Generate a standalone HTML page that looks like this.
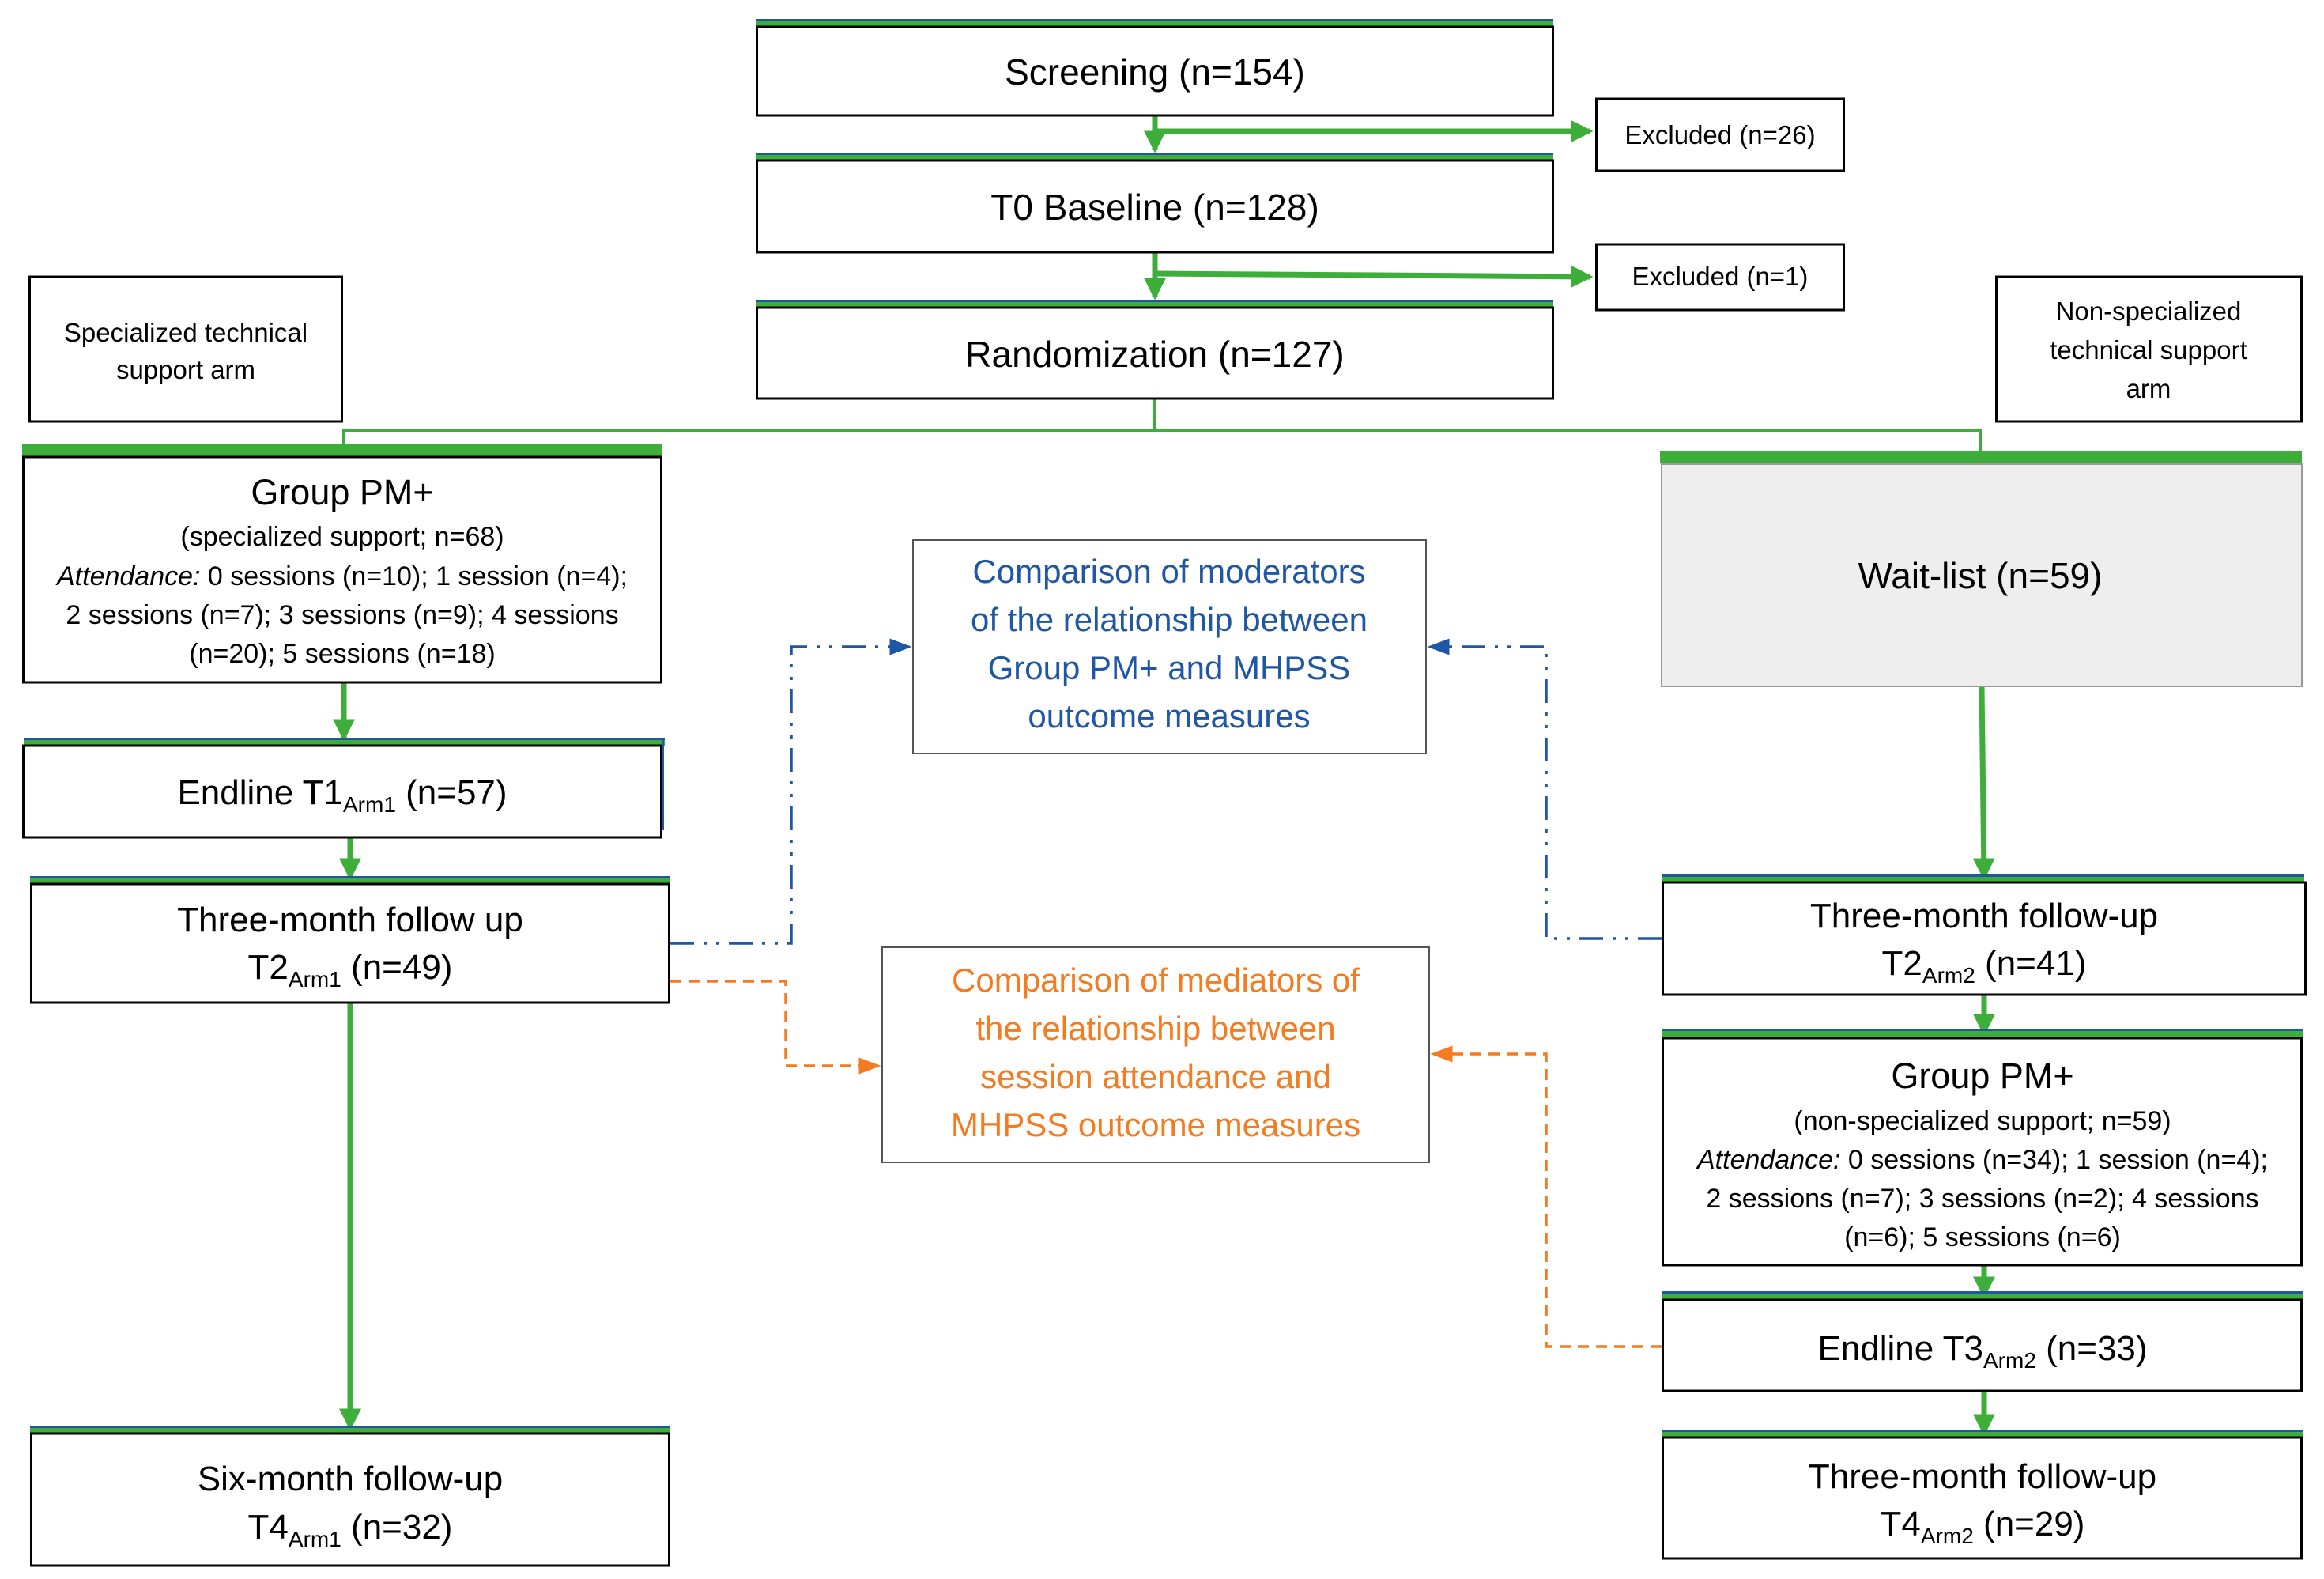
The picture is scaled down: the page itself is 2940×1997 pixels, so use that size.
<!DOCTYPE html>
<html><head><meta charset="utf-8"><style>
html,body{margin:0;padding:0;background:#fff;}
svg{display:block;}
text{font-family:"Liberation Sans",sans-serif;fill:#000;}
</style></head><body>
<svg width="2940" height="1997" viewBox="0 0 2940 1997" xmlns="http://www.w3.org/2000/svg">
<defs>
<marker id="ga2" markerWidth="4" markerHeight="4" refX="3.5" refY="2" orient="auto" markerUnits="strokeWidth"><path d="M0,0 L4,2 L0,4 z" fill="#3dae3a"/></marker>
<marker id="ba" markerWidth="8" markerHeight="8" refX="7" refY="4" orient="auto" markerUnits="strokeWidth"><path d="M0,1 L8,4 L0,7 z" fill="#1f57a5"/></marker>
<marker id="oa" markerWidth="8" markerHeight="8" refX="7" refY="4" orient="auto" markerUnits="strokeWidth"><path d="M0,1 L8,4 L0,7 z" fill="#f47b20"/></marker>
</defs>

<g stroke="#3dae3a" fill="none">
<line x1="1461" y1="146" x2="1461" y2="190" stroke-width="7" marker-end="url(#ga2)"/>
<line x1="1461" y1="166" x2="2012" y2="166" stroke-width="7" marker-end="url(#ga2)"/>
<line x1="1461" y1="319" x2="1461" y2="376" stroke-width="7" marker-end="url(#ga2)"/>
<line x1="1461" y1="346" x2="2012" y2="350" stroke-width="7" marker-end="url(#ga2)"/>
<polyline points="1461,504 1461,544 435,544 435,562" stroke-width="4"/>
<polyline points="1461,544 2505,544 2505,570" stroke-width="4"/>
<line x1="435" y1="863" x2="435" y2="934" stroke-width="7" marker-end="url(#ga2)"/>
<line x1="443" y1="1059" x2="443" y2="1110" stroke-width="7" marker-end="url(#ga2)"/>
<line x1="443" y1="1268" x2="443" y2="1806" stroke-width="7" marker-end="url(#ga2)"/>
<line x1="2507" y1="868" x2="2510" y2="1110" stroke-width="7" marker-end="url(#ga2)"/>
<line x1="2510" y1="1258" x2="2510" y2="1307" stroke-width="7" marker-end="url(#ga2)"/>
<line x1="2510" y1="1600" x2="2510" y2="1639" stroke-width="7" marker-end="url(#ga2)"/>
<line x1="2510" y1="1759" x2="2510" y2="1813" stroke-width="7" marker-end="url(#ga2)"/>
</g>
<g fill="none" stroke-width="3.5">
<polyline points="848,1193 1001,1193 1001,818 1150,818" stroke="#1f57a5" stroke-dasharray="30,12,4,12,4,12" marker-end="url(#ba)"/>
<polyline points="2102,1187 1956,1187 1956,818 1809,818" stroke="#1f57a5" stroke-dasharray="30,12,4,12,4,12" marker-end="url(#ba)"/>
<polyline points="848,1241 994,1241 994,1348 1111,1348" stroke="#f47b20" stroke-dasharray="14,9" marker-end="url(#oa)"/>
<polyline points="2102,1703 1956,1703 1956,1333 1813,1333" stroke="#f47b20" stroke-dasharray="14,9" marker-end="url(#oa)"/>
</g>

<g>
<rect x="956" y="24" width="1009" height="3" fill="#1f57a5"/><rect x="956" y="27" width="1009" height="7" fill="#3dae3a"/>
<rect x="957.5" y="34" width="1007" height="112" fill="#fff" stroke="#000" stroke-width="3"/>
<rect x="956" y="193" width="1009" height="3" fill="#1f57a5"/><rect x="956" y="196" width="1009" height="7" fill="#3dae3a"/>
<rect x="957.5" y="203" width="1007" height="116" fill="#fff" stroke="#000" stroke-width="3"/>
<rect x="956" y="379" width="1009" height="3" fill="#1f57a5"/><rect x="956" y="382" width="1009" height="7" fill="#3dae3a"/>
<rect x="957.5" y="389" width="1007" height="115" fill="#fff" stroke="#000" stroke-width="3"/>
<rect x="28" y="562" width="810" height="15" fill="#3dae3a"/>
<rect x="29.5" y="578" width="807" height="285" fill="#fff" stroke="#000" stroke-width="3"/>
<rect x="30" y="933" width="811" height="3" fill="#1f57a5"/><rect x="30" y="936" width="811" height="7" fill="#3dae3a"/>
<rect x="29.5" y="943" width="807" height="116" fill="#fff" stroke="#000" stroke-width="3"/>
<rect x="837" y="936" width="3" height="114" fill="#1f57a5"/>
<rect x="38" y="1108" width="810" height="3" fill="#1f57a5"/><rect x="38" y="1111" width="810" height="7" fill="#3dae3a"/>
<rect x="39.5" y="1118" width="807" height="150" fill="#fff" stroke="#000" stroke-width="3"/>
<rect x="38" y="1803" width="810" height="3" fill="#1f57a5"/><rect x="38" y="1806" width="810" height="7" fill="#3dae3a"/>
<rect x="39.5" y="1813" width="807" height="167" fill="#fff" stroke="#000" stroke-width="3"/>
<rect x="2100" y="570" width="812" height="15" fill="#3dae3a"/>
<rect x="2102" y="587" width="810" height="281" fill="#eeeeee" stroke="#999" stroke-width="2"/>
<rect x="2102" y="1106" width="813" height="3" fill="#1f57a5"/><rect x="2102" y="1109" width="813" height="7" fill="#3dae3a"/>
<rect x="2103.5" y="1116" width="813" height="142" fill="#fff" stroke="#000" stroke-width="3"/>
<rect x="2102" y="1301" width="811" height="3" fill="#1f57a5"/><rect x="2102" y="1304" width="811" height="9" fill="#3dae3a"/>
<rect x="2103.5" y="1313" width="808" height="287" fill="#fff" stroke="#000" stroke-width="3"/>
<rect x="2102" y="1633" width="811" height="3" fill="#1f57a5"/><rect x="2102" y="1636" width="811" height="8" fill="#3dae3a"/>
<rect x="2103.5" y="1644" width="808" height="115" fill="#fff" stroke="#000" stroke-width="3"/>
<rect x="2102" y="1808" width="811" height="3" fill="#1f57a5"/><rect x="2102" y="1811" width="811" height="7" fill="#3dae3a"/>
<rect x="2103.5" y="1818" width="808" height="153" fill="#fff" stroke="#000" stroke-width="3"/>
</g>

<g fill="#fff" stroke="#000" stroke-width="3">
<rect x="2019.5" y="125" width="313" height="91"/>
<rect x="2019.5" y="309" width="313" height="83"/>
<rect x="37.5" y="350" width="395" height="183"/>
<rect x="2525.5" y="350" width="386" height="183"/>
</g>
<g fill="#fff" stroke="#555" stroke-width="2">
<rect x="1155" y="683" width="649" height="270"/>
<rect x="1116" y="1198" width="692" height="272"/>
</g>

<g text-anchor="middle">
<text x="1461" y="107" font-size="46">Screening (n=154)</text>
<text x="1461" y="278" font-size="46">T0 Baseline (n=128)</text>
<text x="1461" y="464" font-size="46">Randomization (n=127)</text>
<text x="2176" y="182" font-size="33">Excluded (n=26)</text>
<text x="2176" y="361" font-size="33">Excluded (n=1)</text>
<text x="235" y="432" font-size="33">Specialized technical</text>
<text x="235" y="479" font-size="33">support arm</text>
<text x="2718" y="405" font-size="33">Non-specialized</text>
<text x="2718" y="454" font-size="33">technical support</text>
<text x="2718" y="503" font-size="33">arm</text>

<text x="433" y="638" font-size="45">Group PM+</text>
<text x="433" y="690" font-size="34">(specialized support; n=68)</text>
<text x="433" y="740" font-size="34"><tspan font-style="italic">Attendance:</tspan> 0 sessions (n=10); 1 session (n=4);</text>
<text x="433" y="789" font-size="34">2 sessions (n=7); 3 sessions (n=9); 4 sessions</text>
<text x="433" y="838" font-size="34">(n=20); 5 sessions (n=18)</text>

<text x="433" y="1017" font-size="44">Endline T1<tspan font-size="28" dy="10">Arm1</tspan><tspan dy="-10"> (n=57)</tspan></text>
<text x="443" y="1178" font-size="44">Three-month follow up</text>
<text x="443" y="1238" font-size="44">T2<tspan font-size="28" dy="10">Arm1</tspan><tspan dy="-10"> (n=49)</tspan></text>
<text x="443" y="1885" font-size="44">Six-month follow-up</text>
<text x="443" y="1946" font-size="44">T4<tspan font-size="28" dy="10">Arm1</tspan><tspan dy="-10"> (n=32)</tspan></text>

<text x="2505" y="744" font-size="46">Wait-list (n=59)</text>
<text x="2510" y="1173" font-size="44">Three-month follow-up</text>
<text x="2510" y="1233" font-size="44">T2<tspan font-size="28" dy="10">Arm2</tspan><tspan dy="-10">  (n=41)</tspan></text>
<text x="2508" y="1376" font-size="45">Group PM+</text>
<text x="2508" y="1429" font-size="34">(non-specialized support; n=59)</text>
<text x="2508" y="1478" font-size="34"><tspan font-style="italic">Attendance:</tspan> 0 sessions (n=34); 1 session (n=4);</text>
<text x="2508" y="1527" font-size="34">2 sessions (n=7); 3 sessions (n=2); 4 sessions</text>
<text x="2508" y="1576" font-size="34">(n=6); 5 sessions (n=6)</text>
<text x="2508" y="1720" font-size="44">Endline T3<tspan font-size="28" dy="10">Arm2</tspan><tspan dy="-10">  (n=33)</tspan></text>
<text x="2508" y="1882" font-size="44">Three-month follow-up</text>
<text x="2508" y="1942" font-size="44">T4<tspan font-size="28" dy="10">Arm2</tspan><tspan dy="-10">  (n=29)</tspan></text>

<g font-size="42">
<text x="1479" y="737" style="fill:#1f57a5">Comparison of moderators</text>
<text x="1479" y="798" style="fill:#1f57a5">of the relationship between</text>
<text x="1479" y="859" style="fill:#1f57a5">Group PM+ and MHPSS</text>
<text x="1479" y="920" style="fill:#1f57a5">outcome measures</text>
</g>
<g font-size="42">
<text x="1462" y="1254" style="fill:#f47b20">Comparison of mediators of</text>
<text x="1462" y="1315" style="fill:#f47b20">the relationship between</text>
<text x="1462" y="1376" style="fill:#f47b20">session attendance and</text>
<text x="1462" y="1437" style="fill:#f47b20">MHPSS outcome measures</text>
</g>
</g>
</svg>
</body></html>
